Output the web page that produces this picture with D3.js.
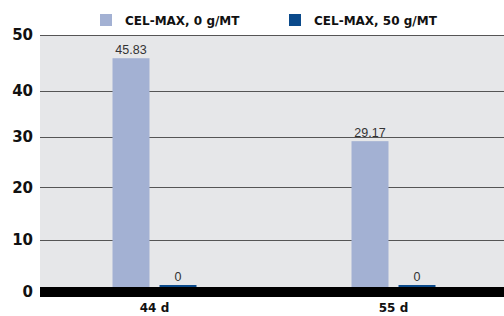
<!DOCTYPE html>
<html>
<head>
<meta charset="utf-8">
<script src="https://cdn.jsdelivr.net/npm/d3@7"></script>
<style>
  html, body { margin: 0; padding: 0; background: #fff; }
  svg { display: block; }
  .tick-label { font: bold 15px "DejaVu Sans", sans-serif; fill: #111; }
  .cat-label { font: bold 12px "DejaVu Sans", sans-serif; fill: #111; }
  .legend-label { font: bold 12px "DejaVu Sans", sans-serif; fill: #111; }
  .value-label { font: 12.5px "Liberation Sans", Arial, sans-serif; fill: #333; }
</style>
</head>
<body>
<div id="chart"></div>
<script>
const categories = ['44 d', '55 d']
const seriesNames = ['CEL-MAX, 0 g/MT', 'CEL-MAX, 50 g/MT']
const series0 = [45.83, 29.17]
const series1 = [0, 0]
const yTicks = [0, 10, 20, 30, 40, 50]
const seriesColors = ['#a3b1d3', '#0b4a8b']

const width = 504
const height = 316
const plotLeft = 40
const plotRight = 504
const yZero = 287

const svg = d3.select('#chart')
  .append('svg')
  .attr('width', width)
  .attr('height', height)

// the source chart's gridlines are not evenly spaced, so the scale is piecewise
const y = d3.scaleLinear().domain(yTicks).range([287, 240, 187.3, 137, 90.7, 35])
const x0 = d3.scaleBand().domain(categories).range([35, 513])
const x1 = d3.scaleBand().domain(seriesNames).range([-42, 42]).paddingInner(10 / 47)

// plot background
svg.append('rect')
  .attr('x', plotLeft)
  .attr('y', y(50))
  .attr('width', plotRight - plotLeft)
  .attr('height', yZero - y(50))
  .attr('fill', '#e6e7e9')

// gridlines
svg.selectAll('line.grid')
  .data(yTicks.filter(d => d > 0))
  .enter()
  .append('line')
  .attr('class', 'grid')
  .attr('x1', plotLeft)
  .attr('x2', plotRight)
  .attr('y1', d => Math.round(y(d)) + 0.5)
  .attr('y2', d => Math.round(y(d)) + 0.5)
  .attr('stroke', '#555')
  .attr('stroke-width', 1)

// y tick labels
svg.selectAll('text.tick-label')
  .data(yTicks)
  .enter()
  .append('text')
  .attr('class', 'tick-label')
  .attr('x', 33)
  .attr('y', d => d === 0 ? y(d) + 5 : y(d))
  .attr('dy', '0.36em')
  .attr('text-anchor', 'end')
  .text(d => d)

const rows = []
categories.forEach((c, i) => {
  rows.push({ cat: c, s: seriesNames[0], v: series0[i], color: seriesColors[0] })
  rows.push({ cat: c, s: seriesNames[1], v: series1[i], color: seriesColors[1] })
})

const cx = d => x0(d.cat) + x0.bandwidth() / 2 + x1(d.s)

// bars
svg.selectAll('rect.bar')
  .data(rows)
  .enter()
  .append('rect')
  .attr('class', 'bar')
  .attr('x', d => cx(d))
  .attr('width', x1.bandwidth())
  .attr('y', d => Math.min(y(d.v), yZero - 2))
  .attr('height', d => Math.max(yZero - y(d.v), 2))
  .attr('fill', d => d.color)

// value labels
svg.selectAll('text.value-label')
  .data(rows)
  .enter()
  .append('text')
  .attr('class', 'value-label')
  .attr('x', d => cx(d) + x1.bandwidth() / 2)
  .attr('y', d => Math.min(y(d.v), yZero - 2) - 4)
  .attr('text-anchor', 'middle')
  .text(d => d.v === 0 ? '0' : d3.format('.2f')(d.v))

// x axis band
svg.append('rect')
  .attr('x', plotLeft)
  .attr('y', yZero)
  .attr('width', plotRight - plotLeft)
  .attr('height', 10)
  .attr('fill', '#000')

// category labels
svg.selectAll('text.cat-label')
  .data(categories)
  .enter()
  .append('text')
  .attr('class', 'cat-label')
  .attr('x', d => x0(d) + x0.bandwidth() / 2)
  .attr('y', 312)
  .attr('text-anchor', 'middle')
  .text(d => d)

// legend
const legendX = [100, 289]
const legend = svg.selectAll('g.legend')
  .data(seriesNames)
  .enter()
  .append('g')
  .attr('class', 'legend')
  .attr('transform', (d, i) => `translate(${legendX[i]},14)`)
legend.append('rect')
  .attr('width', 12)
  .attr('height', 12)
  .attr('fill', (d, i) => seriesColors[i])
legend.append('text')
  .attr('class', 'legend-label')
  .attr('x', 25)
  .attr('y', 11)
  .text(d => d)
</script>
</body>
</html>
